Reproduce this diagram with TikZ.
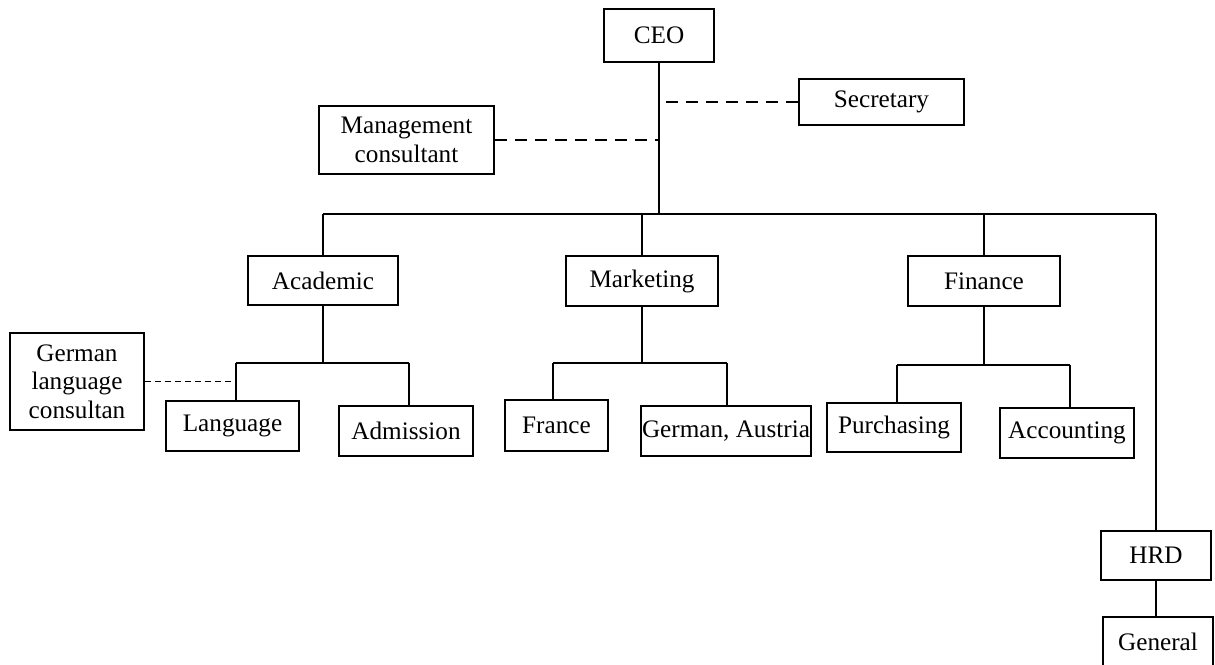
\documentclass[tikz,border=0pt]{standalone}
\usepackage{fontspec}
\setmainfont{Liberation Serif}
\usetikzlibrary{positioning}

\begin{document}
\begin{tikzpicture}[
    x=0.5pt, y=-0.5pt,
    unit/.style={draw, line width=0.9pt, inner sep=0pt, align=center,
      font=\fontsize{12.6}{14.2}\selectfont},
    link/.style={-, line width=0.9pt},
    staffline/.style={link, dash pattern=on 6pt off 4pt},
    advisorline/.style={link, dash pattern=on 3pt off 2pt}
  ]
  \useasboundingbox (0,0) rectangle (1215,664);

  % Top level and staff
  \node[unit, minimum width=55pt, minimum height=26.5pt] (ceo) at (659,35.5) {CEO};
  \node[unit, minimum width=82.5pt, minimum height=23pt] (sec) at (881.5,102) {Secretary};
  \node[unit, minimum width=87.5pt, minimum height=34pt] (mgmt) at (406.5,140) {Management\\consultant};

  % Departments
  \node[unit, minimum width=75pt, minimum height=24.5pt] (acad) at (323,280.5) {Academic};
  \node[unit, minimum width=76pt, minimum height=25pt] (mkt) at (642,281) {Marketing};
  \node[unit, minimum width=76pt, minimum height=25pt] (fin) at (984,281) {Finance};
  \node[unit, minimum width=55pt, minimum height=24.5pt] (hrd) at (1156,555.5) {HRD};

  % Sections
  \node[unit, minimum width=67pt, minimum height=48.5pt] (glc) at (77,381.5) {German\\language\\consultan};
  \node[unit, minimum width=66.5pt, minimum height=25pt] (lang) at (232.5,426) {Language};
  \node[unit, minimum width=67pt, minimum height=25pt] (adm) at (406,431) {Admission};
  \node[unit, minimum width=51.5pt, minimum height=25.5pt] (fra) at (556.5,425.5) {France};
  \node[unit, minimum width=85pt, minimum height=25pt] (ger) at (726,431) {German, Austria};
  \node[unit, minimum width=67pt, minimum height=24.5pt] (pur) at (894,427.5) {Purchasing};
  \node[unit, minimum width=67pt, minimum height=25pt] (acc) at (1067,433) {Accounting};
  \node[unit, minimum width=55pt, minimum height=25pt] (gen) at (1158,642) {General};

  % Junctions
  \coordinate (busL) at (323,214);
  \coordinate (busR) at (1156,214);
  \coordinate (acadL) at (236,363);
  \coordinate (acadR) at (409,363);
  \coordinate (mktL) at (553,363);
  \coordinate (mktR) at (727,363);
  \coordinate (finL) at (897,365);
  \coordinate (finR) at (1070,365);

  % CEO line and main bus
  \draw[link] (ceo.south) -- (ceo.south |- busL);
  \draw[link] (busL) -- (busR);
  \draw[staffline] (sec.west) -- (sec.west -| ceo.south);
  \draw[staffline] (mgmt.east) -- (mgmt.east -| ceo.south);

  % Drops to departments
  \draw[link] (busL) -- (acad.north);
  \draw[link] (mkt.north |- busL) -- (mkt.north);
  \draw[link] (fin.north |- busL) -- (fin.north);
  \draw[link] (busR) -- (hrd.north);
  \draw[link] (hrd.south) -- (hrd.south |- gen.north);

  % Academic
  \draw[link] (acad.south) -- (acad.south |- acadL);
  \draw[link] (acadL) -- (acadR);
  \draw[link] (acadL) -- (acadL |- lang.north);
  \draw[link] (acadR) -- (acadR |- adm.north);
  \draw[advisorline] (glc.east) -- (glc.east -| acadL);

  % Marketing
  \draw[link] (mkt.south) -- (mkt.south |- mktL);
  \draw[link] (mktL) -- (mktR);
  \draw[link] (mktL) -- (mktL |- fra.north);
  \draw[link] (mktR) -- (mktR |- ger.north);

  % Finance
  \draw[link] (fin.south) -- (fin.south |- finL);
  \draw[link] (finL) -- (finR);
  \draw[link] (finL) -- (finL |- pur.north);
  \draw[link] (finR) -- (finR |- acc.north);

\end{tikzpicture}
\end{document}
